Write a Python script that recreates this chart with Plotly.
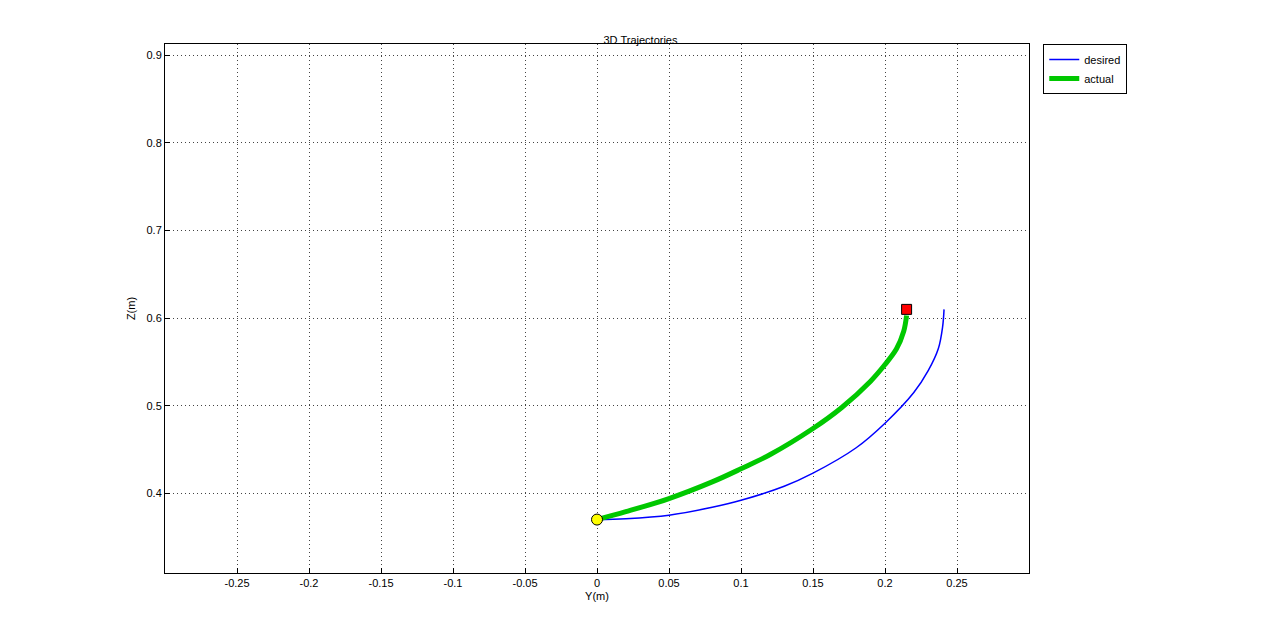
import plotly.graph_objects as go

desired_y = [0.0, 0.02, 0.05, 0.08, 0.10, 0.13, 0.15, 0.18, 0.20, 0.22, 0.23, 0.237, 0.240, 0.241]
desired_z = [0.370, 0.371, 0.375, 0.384, 0.392, 0.408, 0.423, 0.452, 0.480, 0.515, 0.540, 0.565, 0.590, 0.610]
actual_y = [0.0, 0.02, 0.05, 0.08, 0.10, 0.12, 0.15, 0.17, 0.19, 0.20, 0.208, 0.213, 0.215]
actual_z = [0.370, 0.379, 0.394, 0.413, 0.428, 0.444, 0.474, 0.498, 0.528, 0.547, 0.565, 0.585, 0.603]
start = (0.0, 0.370)
end = (0.215, 0.610)

fig = go.Figure()
fig.add_trace(go.Scatter(x=desired_y, y=desired_z, mode="lines", line=dict(color="#0000ff", width=1.5, shape="spline"), name="desired"))
fig.add_trace(go.Scatter(x=actual_y, y=actual_z, mode="lines", line=dict(color="#00c800", width=5, shape="spline"), name="actual"))
fig.add_trace(go.Scatter(x=[start[0]], y=[start[1]], mode="markers", marker=dict(color="yellow", size=11, symbol="circle", line=dict(color="black", width=1)), showlegend=False))
fig.add_trace(go.Scatter(x=[end[0]], y=[end[1]], mode="markers", marker=dict(color="red", size=10, symbol="square", line=dict(color="black", width=1)), showlegend=False))

ax = dict(showgrid=True, gridcolor="#444", griddash="1px,3px", gridwidth=1, zeroline=False,
          showline=True, linecolor="black", mirror=True, ticks="inside", ticklen=5, tickcolor="black",
          tickfont=dict(size=11, color="black", family="Arial"))
fig.update_layout(
    width=1265, height=626, paper_bgcolor="white", plot_bgcolor="white",
    margin=dict(l=157, r=244, t=36, b=61),
    title=dict(text="3D Trajectories", x=0.5, xanchor="center", y=0.955, font=dict(size=11, color="black", family="Arial")),
    xaxis=dict(ax, range=[-0.3, 0.3], tickvals=[-0.25, -0.2, -0.15, -0.1, -0.05, 0, 0.05, 0.1, 0.15, 0.2, 0.25],
               ticktext=["-0.25", "-0.2", "-0.15", "-0.1", "-0.05", "0", "0.05", "0.1", "0.15", "0.2", "0.25"],
               title=dict(text="Y(m)", font=dict(size=11, color="black", family="Arial"), standoff=4)),
    yaxis=dict(ax, range=[0.309, 0.913], tickvals=[0.4, 0.5, 0.6, 0.7, 0.8, 0.9],
               title=dict(text="Z(m)", font=dict(size=11, color="black", family="Arial"), standoff=8)),
    legend=dict(x=1.0165, y=1.0, xanchor="left", yanchor="top", bordercolor="black", borderwidth=1,
                font=dict(size=11, color="black", family="Arial"), tracegroupgap=0),
)
fig.write_html("out.html")
